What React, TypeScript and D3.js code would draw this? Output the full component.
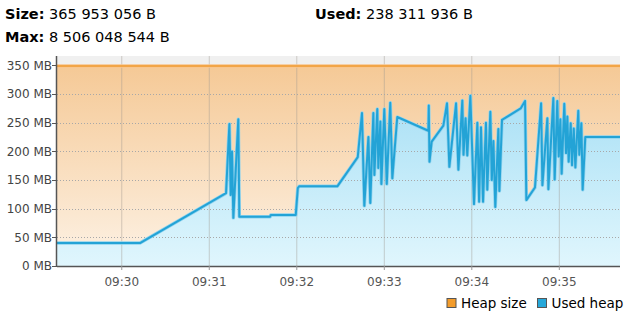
import React from "react";
import * as d3 from "d3";

// ---- data ----
const headerLabels = ["Size:", "Max:", "Used:"];
const headerValues = ["365 953 056 B", "8 506 048 544 B", "238 311 936 B"];
const yTicksMB = [0, 50, 100, 150, 200, 250, 300, 350];
const xTickLabels = ["09:30", "09:31", "09:32", "09:33", "09:34", "09:35"];
const seriesNames = ["Heap size", "Used heap"];
const heapSizeMB = 349;
const yMaxMB = 366.5;
// seconds relative to 09:30:00
const domainSec = [-44.4, 341.6];
const usedSec = [
  -44.4, 12.5, 71.5, 73.8, 74.7, 75.6, 76.5, 79.9, 80.6, 101.7, 102.2, 119.3, 120.7, 121.6,
  147.8, 161.8, 164.7, 166.3, 169.1, 170.4, 172.5, 173.2, 175.2, 175.9, 177.3, 178.0, 180.0,
  181.7, 184.1, 185.5, 188.9, 210.2, 210.5, 211.0, 212.5, 220.5, 223.0, 224.6, 229.2, 230.8,
  233.5, 234.3, 235.7, 236.9, 239.0, 241.5, 243.8, 245.0, 246.3, 247.7, 249.7, 250.6, 252.7,
  253.7, 254.8, 256.1, 258.2, 258.9, 260.7, 273.5, 276.5, 277.4, 283.3, 287.5, 288.4, 291.8,
  292.5, 295.9, 296.8, 298.6, 299.6, 300.7, 301.6, 303.4, 304.6, 305.5, 306.4, 307.8, 308.7,
  309.9, 311.0, 313.0, 313.7, 315.1, 316.0, 317.8, 341.6,
];
const usedMB = [
  40, 40, 127, 248, 124, 200, 84, 256, 86, 86, 89, 89, 136, 139,
  139, 190, 267, 105, 225, 110, 267, 159, 274, 171, 252, 143, 274,
  143, 285, 153, 260, 236, 280, 182, 217, 245, 284, 173, 284, 168,
  289, 194, 258, 193, 297, 108, 250, 112, 242, 112, 250, 133, 269,
  150, 218, 103, 239, 131, 255, 275, 288, 115, 137, 284, 141, 258,
  134, 293, 151, 288, 191, 256, 161, 283, 197, 261, 182, 249, 176,
  240, 172, 271, 194, 249, 133, 225, 225,
];

const W = 628;
const H = 319;
const FONT = "'DejaVu Sans', Verdana, sans-serif";
const base = new Date(2024, 0, 1, 9, 30, 0).getTime();
const toDate = (s: number) => new Date(base + s * 1000);

export default function App() {
  const left = 57, right = 620, top = 56, bottom = 266;
  const x = d3.scaleTime().domain(domainSec.map(toDate)).range([left, right]);
  const y = d3.scaleLinear().domain([0, yMaxMB]).range([bottom, top]);
  const pts: [Date, number][] = usedSec.map((s, i) => [toDate(s), usedMB[i]]);
  const line = d3.line<[Date, number]>().x((d) => x(d[0])).y((d) => y(d[1]));
  const area = d3.area<[Date, number]>().x((d) => x(d[0])).y0(bottom).y1((d) => y(d[1]));
  const xTicks = xTickLabels.map((lab) => {
    const [hh, mm] = lab.split(":").map(Number);
    return { lab, d: new Date(2024, 0, 1, hh, mm, 0) };
  });
  const heapY = y(heapSizeMB);

  return (
    <svg width={W} height={H} style={{ position: "absolute", left: 0, top: 0, fontFamily: FONT }}>
      <defs>
        <linearGradient id="gHeap" gradientUnits="userSpaceOnUse" x1="0" y1={heapY} x2="0" y2={bottom}>
          <stop offset="0" stopColor="#f5c996" />
          <stop offset="1" stopColor="#fdf2e5" />
        </linearGradient>
        <linearGradient id="gUsed" gradientUnits="userSpaceOnUse" x1="0" y1={top + 40} x2="0" y2={bottom}>
          <stop offset="0" stopColor="#a9e0f5" />
          <stop offset="1" stopColor="#e0f6fd" />
        </linearGradient>
        <clipPath id="clip">
          <rect x={left} y={top} width={right - left} height={bottom - top} />
        </clipPath>
      </defs>
      <rect x={0} y={0} width={W} height={H} fill="#fff" />
      {/* header */}
      {[0, 1, 2].map((i) => (
        <text
          key={i}
          x={i === 2 ? 315 : 5}
          y={i === 1 ? 42 : 19}
          fontSize={14.5}
          fill="#000"
        >
          <tspan fontWeight="bold">{headerLabels[i]}</tspan>
          <tspan> {headerValues[i]}</tspan>
        </text>
      ))}
      {/* plot background */}
      <rect x={left} y={top} width={right - left} height={bottom - top} fill="#f0f0f0" />
      <g clipPath="url(#clip)">
        <rect x={left} y={heapY} width={right - left} height={bottom - heapY} fill="url(#gHeap)" />
        <path d={area(pts) || ""} fill="url(#gUsed)" />
        {xTicks.map((t) => (
          <line key={t.lab} x1={x(t.d)} x2={x(t.d)} y1={top} y2={bottom} stroke="#a09890" strokeOpacity={0.45} strokeWidth={1} />
        ))}
        {yTicksMB.slice(1).map((v) => (
          <line key={v} x1={left} x2={right} y1={Math.round(y(v)) + 0.5} y2={Math.round(y(v)) + 0.5} stroke="#a8a8a8" strokeWidth={1} strokeDasharray="1,2" />
        ))}
        <line x1={left} x2={right} y1={heapY} y2={heapY} stroke="#f8c58c" strokeWidth={3.5} />
        <line x1={left} x2={right} y1={heapY} y2={heapY} stroke="#f09a30" strokeWidth={1.5} />
        <path d={line(pts) || ""} fill="none" stroke="#8fd3ee" strokeWidth={3.5} strokeLinejoin="round" />
        <path d={line(pts) || ""} fill="none" stroke="#23a3d6" strokeWidth={2} strokeLinejoin="round" />
      </g>
      {/* axes */}
      <line x1={left - 0.5} x2={left - 0.5} y1={top} y2={bottom + 1} stroke="#555" strokeWidth={1.5} />
      <line x1={left} x2={right} y1={bottom + 0.5} y2={bottom + 0.5} stroke="#555" strokeWidth={1.5} />
      {yTicksMB.map((v) => (
        <g key={v}>
          <line x1={left - 5} x2={left} y1={Math.round(y(v)) + 0.5} y2={Math.round(y(v)) + 0.5} stroke="#555" />
          <text x={left - 5} y={y(v)} dy="0.36em" textAnchor="end" fontSize={12} fill="#444">
            {v} MB
          </text>
        </g>
      ))}
      {xTicks.map((t) => (
        <g key={t.lab}>
          <line x1={x(t.d)} x2={x(t.d)} y1={bottom} y2={bottom + 4} stroke="#999" />
          <text x={x(t.d)} y={286} textAnchor="middle" fontSize={12} fill="#555">
            {t.lab}
          </text>
        </g>
      ))}
      {/* legend */}
      {seriesNames.map((n, i) => {
        const lx = i === 0 ? 447 : 537.5;
        return (
          <g key={n}>
            <rect x={lx} y={298.5} width={9} height={9} fill={i === 0 ? "#f39c2b" : "#26a7d9"} stroke="#555" strokeWidth={1} />
            <text x={lx + 14} y={308} fontSize={13.5} fill="#000">
              {n}
            </text>
          </g>
        );
      })}
    </svg>
  );
}
